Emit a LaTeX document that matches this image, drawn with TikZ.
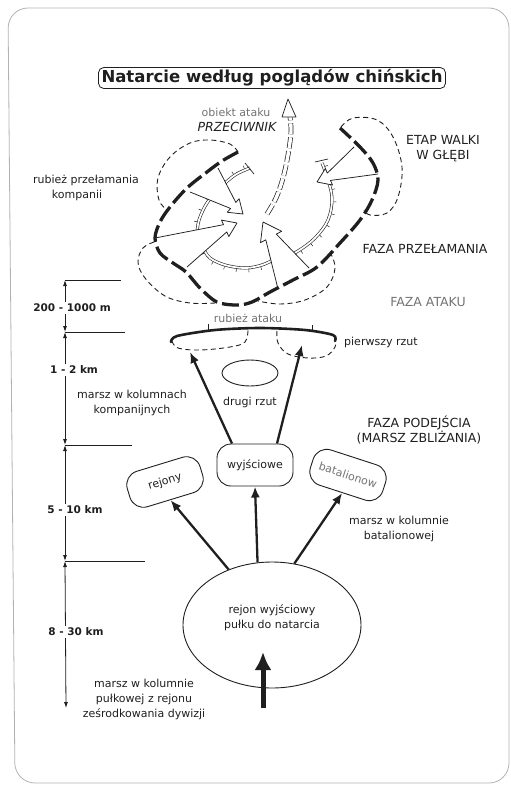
\documentclass[tikz,border=0pt]{standalone}
\usepackage{fontspec}
\setmainfont{DejaVu Sans}
\usetikzlibrary{arrows.meta,calc,shapes.geometric,decorations.markings}
\definecolor{ink}{gray}{0.12}
\definecolor{softink}{gray}{0.45}
\definecolor{pageedge}{gray}{0.70}
\tikzset{
  hollowst/.style={fill=white, draw=ink, line width=0.75pt, line join=round},
  brkline/.style={draw=ink, line width=3.3pt, dash pattern=on 17pt off 5pt},
  lobe/.style={draw=ink, line width=0.9pt, dash pattern=on 5pt off 3.5pt},
  ringarc/.style={draw=ink, line width=0.6pt, double=white, double distance=1.8pt},
  ringticks/.style={decorate, decoration={markings, mark=between positions 0.06 and 0.97 step 12pt with {\draw[ink, line width=0.5pt] (0,-1.5pt) -- (0,-4.5pt);}}},
  targetarr/.style={draw=ink, line width=0.7pt, double=white, double distance=3.4pt, dash pattern=on 11pt off 3pt},
  solidarr/.style={draw=ink, line width=2.3pt, -{Latex[length=11pt,width=9pt]}},
  dimarr/.style={draw=ink, line width=0.8pt, {Latex[length=6pt,width=4pt]}-{Latex[length=6pt,width=4pt]}},
  tickline/.style={draw=ink, line width=0.8pt},
  lbl/.style={font=\fontsize{11}{15}\selectfont, text=ink, align=center, inner sep=1pt},
  capslbl/.style={font=\fontsize{12.5}{15}\selectfont, text=ink, align=center, inner sep=1pt},
  scalelbl/.style={font=\fontsize{10.5}{12}\selectfont\bfseries, text=ink, fill=white, inner sep=2pt},
  boxst/.style={draw=ink, line width=0.9pt, rounded corners=14pt, minimum width=76pt, minimum height=37pt, font=\fontsize{11}{13}\selectfont, text=ink, inner sep=2pt},
}
\newcommand{\hollowarrow}[6]{%
  \coordinate (ha-m) at ($(#1)!0.5!(#2)$);
  \coordinate (ha-h) at ($(#3)!#4!(ha-m)$);
  \coordinate (ha-na) at ($(ha-h)!#6!90:(#3)$);
  \coordinate (ha-nb) at ($(ha-h)!#6!-90:(#3)$);
  \coordinate (ha-ba) at ($(ha-h)!#5!90:(#3)$);
  \coordinate (ha-bb) at ($(ha-h)!#5!-90:(#3)$);
  \filldraw[hollowst] (#1) -- (ha-na) -- (ha-ba) -- (#3) -- (ha-bb) -- (ha-nb) -- (#2);
}
\begin{document}
\begin{tikzpicture}[x=1pt,y=-1pt]
\useasboundingbox (0,0) rectangle (511,785);
% page edge
\draw[pageedge, line width=0.8pt, rounded corners=20pt] (8,8) -- (509,8) -- (509,783) -- (15,783) -- cycle;

% ---- title
\node[draw=ink, line width=0.8pt, rounded corners=5pt, inner xsep=3pt, inner ysep=2pt,
      font=\fontsize{16.5}{18}\selectfont\bfseries, text=ink] (title) at (272,78)
      {Natarcie według poglądów chińskich};

% ---- company sector lobes (thin dashed)
\draw[lobe] plot[smooth, tension=0.6] coordinates {(238,152) (230,144) (210,140) (190,143) (170,157) (158,178) (159,200) (168,211)};
\draw[lobe] plot[smooth, tension=0.6] coordinates {(154,242) (143,248) (138,262) (145,278) (165,296) (190,303) (215,303)};
\draw[lobe] plot[smooth, tension=0.6] coordinates {(330,252) (335,268) (327,287) (305,300) (280,304) (258,301)};
\draw[lobe] plot[smooth, tension=0.6] coordinates {(341,127) (353,118) (377,120) (393,137) (402,167) (398,197) (387,213) (370,215) (364,210)};

% ---- inner double arcs with ticks
\draw[ringarc] plot[smooth, tension=0.6] coordinates {(250,168) (235,175) (220,188) (207,203) (199,220) (197,234)};
\path[ringticks] plot[smooth, tension=0.6] coordinates {(250,168) (235,175) (220,188) (207,203) (199,220) (197,234)};
\draw[ringarc] plot[smooth, tension=0.6] coordinates {(203,248) (210,258) (225,265) (245,268) (262,265) (275,259)};
\path[ringticks] plot[smooth, tension=0.6] coordinates {(203,248) (210,258) (225,265) (245,268) (262,265) (275,259)};
\draw[ringarc] plot[smooth, tension=0.6] coordinates {(283,258) (298,251) (315,238) (328,220) (332,198) (327,177) (322,163)};
\path[ringticks] plot[smooth, tension=0.6] coordinates {(283,258) (298,251) (315,238) (328,220) (332,198) (327,177) (322,163)};
\draw[ink, line width=0.7pt] (245,163) -- (254,174);
\draw[ink, line width=0.7pt] (315,162) -- (328,159);

% ---- objective arrow (dashed double shaft)
\coordinate (objtail) at (267,214);
\coordinate (objhead) at (290,117);
\draw[targetarr] plot[smooth, tension=0.6] coordinates {(objtail) (276,198) (283,178) (288,155) (291,132) (objhead)};
\coordinate (objtip) at (288,99);
\filldraw[hollowst] (282,117) -- (objtip) -- (296,117) -- cycle;

% ---- hollow attack arrows
\coordinate (a1A) at (218,168); \coordinate (a1B) at (190,192); \coordinate (a1T) at (243,214);
\coordinate (a2A) at (155,238); \coordinate (a2B) at (187,267); \coordinate (a2T) at (237,223);
\coordinate (a3A) at (278,289); \coordinate (a3B) at (309,268); \coordinate (a3T) at (263,222);
\coordinate (a4A) at (378,174); \coordinate (a4B) at (354,147); \coordinate (a4T) at (317,182);
\hollowarrow{a1A}{a1B}{a1T}{13pt}{9pt}{4pt}
\hollowarrow{a2A}{a2B}{a2T}{13pt}{9pt}{4pt}
\hollowarrow{a3A}{a3B}{a3T}{17pt}{12pt}{6pt}
\hollowarrow{a4A}{a4B}{a4T}{13pt}{9pt}{4pt}

% ---- breakthrough line (thick dashed)
\draw[brkline] plot[smooth, tension=0.55] coordinates {(238,152) (222,161) (207,172) (187,188) (170,207) (160,222) (155,238) (160,253) (173,263) (186,272) (200,288) (217,302) (237,305) (252,302) (270,292) (293,280) (317,267) (340,243) (360,220) (372,200) (378,180) (373,163) (360,147) (340,128)};

% ---- labels upper part
\node[lbl, text=softink] (objlbl) at (236,112) {obiekt ataku};
\node[capslbl, font=\fontsize{12.5}{15}\selectfont\itshape] (przec) at (237,127) {PRZECIWNIK};
\node[capslbl] (etap) at (443,149) {ETAP WALKI\\W GŁĘBI};
\node[lbl] (rpk1) at (86,180) {rubież przełamania};
\node[lbl] (rpk2) at (77,195) {kompanii};
\node[capslbl] (fprz) at (425,249) {FAZA PRZEŁAMANIA};
\node[capslbl, text=softink] (fatk) at (428,302) {FAZA ATAKU};
\node[lbl, text=softink] (ratk) at (248,318) {rubież ataku};

% ---- line of attack and first echelon
\draw[ink, line width=2.6pt, line cap=round] plot[smooth, tension=0.5] coordinates {(171,342) (177,336) (215,330) (260,328) (305,330) (333,335) (335,341)};
\draw[ink, line width=0.9pt] (208,330) -- (208,324);
\draw[ink, line width=0.9pt] (312,331) -- (312,325);
\draw[lobe] plot[smooth, tension=0.6] coordinates {(172,341) (178,348) (200,350) (230,347) (245,342) (248,330)};
\draw[lobe] plot[smooth, tension=0.6] coordinates {(277,331) (278,343) (288,354) (308,358) (326,356) (335,347) (335,340)};
\node[lbl, anchor=west] (pierw) at (343,342) {pierwszy rzut};
\coordinate (lobeL) at (190,352);
\coordinate (lobeR) at (302,345);

% second echelon
\node[ellipse, draw=ink, line width=0.9pt, minimum width=56pt, minimum height=26pt, inner sep=0pt] (drugi) at (250,373) {};
\node[lbl] (drlbl) at (250,402) {drugi rzut};

% ---- approach
\node[capslbl] (fpod) at (419,430) {FAZA PODEJŚCIA\\(MARSZ ZBLIŻANIA)};
\node[lbl] (mkk) at (132,402.5) {marsz w kolumnach\\kompanijnych};
\node[boxst, rotate=17] (rej) at (165,482) {rejony};
\node[boxst, minimum height=42pt] (wy) at (255,465) {wyjściowe};
\node[boxst, rotate=-18, text=softink] (bat) at (348,475) {batalionow};
\node[lbl] (mkb) at (399,529) {marsz w kolumnie\\batalionowej};

\draw[solidarr] ($(wy.north)+(-23,0)$) -- (lobeL);
\draw[solidarr] ($(wy.north)+(22,0)$) -- (lobeR);

% ---- assembly area
\node[ellipse, draw=ink, line width=0.9pt, minimum width=178pt, minimum height=126pt, inner sep=0pt] (big) at (272,625) {};
\node[lbl] (biglbl) at (272,617.5) {rejon wyjściowy\\pułku do natarcia};
\draw[solidarr] (big.128) -- (rej.south);
\draw[solidarr] (big.103) -- (wy.south);
\draw[solidarr] (big.70) -- (bat.south);
\coordinate (upA) at (263,708);
\coordinate (upB) at (263,652);
\draw[ink, line width=5pt, -{Latex[length=18pt,width=17pt]}] (upA) -- (upB);
\node[lbl] (mkp) at (144,699) {marsz w kolumnie\\pułkowej z rejonu\\ześrodkowania dywizji};

% ---- distance scale
\coordinate (s0) at (65,280);
\coordinate (s1) at (65,332);
\coordinate (s2) at (65,445);
\coordinate (s3) at (65,561);
\coordinate (s4) at (66,708);
\draw[tickline] (s0) -- ++(56,0);
\draw[tickline] (s1) -- ++(60,0);
\draw[tickline] (s2) -- ++(67,0);
\draw[tickline] (s3) -- ++(80,0);
\draw[dimarr] (s0) -- (s1);
\draw[dimarr] (s1) -- (s2);
\draw[dimarr] (s2) -- (s3);
\draw[dimarr] (s3) -- (s4);
\node[scalelbl] (d1) at (72,308) {200 - 1000 m};
\node[scalelbl] (d2) at (74,370) {1 - 2 km};
\node[scalelbl] (d3) at (75,510) {5 - 10 km};
\node[scalelbl] (d4) at (76,632) {8 - 30 km};
\end{tikzpicture}
\end{document}
